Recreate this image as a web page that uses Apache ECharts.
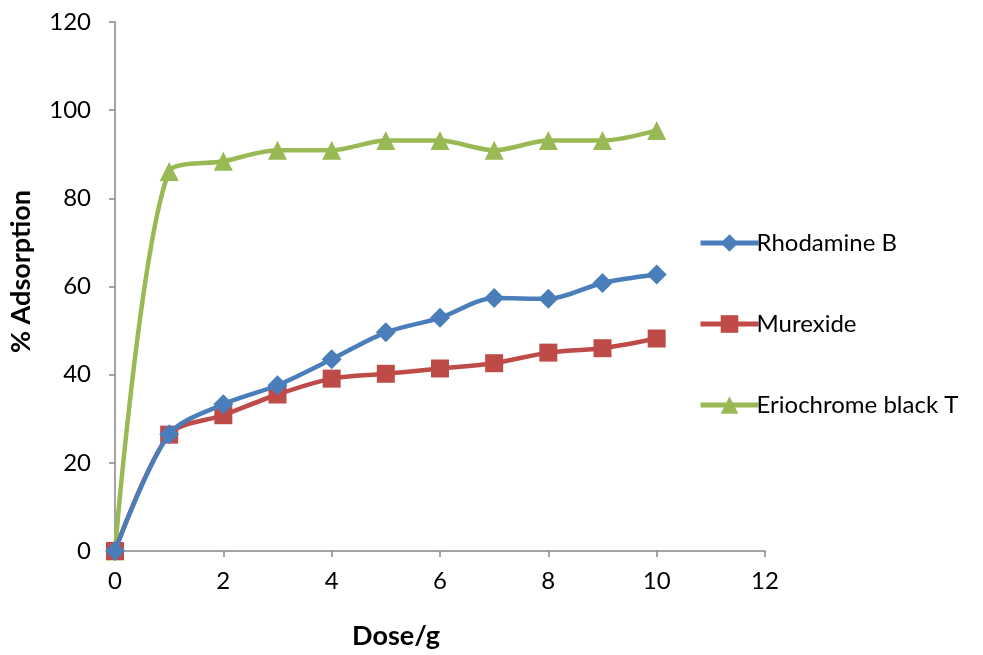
<!DOCTYPE html>
<html>
<head>
<meta charset="utf-8">
<script src="https://cdn.jsdelivr.net/npm/echarts@6/dist/echarts.min.js"></script>
<style>html,body{margin:0;padding:0;background:#fff;}#c{width:983px;height:655px;}</style>
</head>
<body>
<div id="c"></div>
<script>
const doses = [0, 1, 2, 3, 4, 5, 6, 7, 8, 9, 10];
const rhodamineB = [0, 26.5, 33.3, 37.6, 43.5, 49.6, 52.9, 57.4, 57.2, 60.8, 62.7];
const murexide = [0, 26.4, 30.8, 35.5, 39.1, 40.2, 41.4, 42.6, 45.0, 46.0, 48.2];
const eriochrome = [0, 86.1, 88.4, 90.9, 90.9, 93.1, 93.1, 90.9, 93.1, 93.1, 95.4];
const seriesNames = ['Rhodamine B', 'Murexide', 'Eriochrome black T'];
const xTicks = [0, 2, 4, 6, 8, 10, 12];
const yTicks = [0, 20, 40, 60, 80, 100, 120];

const pairs = v => doses.map((d, i) => [d, v[i]]);
const FONT = 'Lato, "Open Sans", sans-serif';
const colors = ['#4A7EBB', '#BE4B48', '#98B954'];
const symbols = ['diamond', 'rect', 'triangle'];
const sizes = [20, 18, 19];
const datas = [rhodamineB, murexide, eriochrome];

const chart = echarts.init(document.getElementById('c'), null, {renderer: 'canvas'});
chart.setOption({
  animation: false,
  backgroundColor: '#fff',
  grid: {left: 114, right: 218, top: 22, bottom: 103},
  legend: {
    orient: 'vertical',
    left: 693, top: 226,
    itemWidth: 58, itemHeight: 22, itemGap: 57,
    lineStyle: {width: 5},
    textStyle: {fontFamily: FONT, fontSize: 24, color: '#000', padding: [0,0,0,-7]},
    data: seriesNames
  },
  xAxis: {
    type: 'value', min: 0, max: 12, interval: 2,
    name: 'Dose/g', nameLocation: 'middle', nameGap: 72,
    nameTextStyle: {fontFamily: FONT, fontSize: 27, fontWeight: 'bold', color: '#000', padding: [0, 88, 0, 0]},
    axisLine: {show: true, lineStyle: {color: '#868686', width: 1.5}},
    axisTick: {show: true, length: 6, lineStyle: {color: '#868686', width: 1.5}},
    axisLabel: {fontFamily: FONT, fontSize: 24, color: '#000', margin: 18,
      formatter: v => xTicks.includes(v) ? String(v) : ''},
    splitLine: {show: false}
  },
  yAxis: {
    type: 'value', min: 0, max: 120, interval: 20,
    name: '% Adsorption', nameLocation: 'middle', nameGap: 80, nameRotate: 90,
    nameTextStyle: {fontFamily: FONT, fontSize: 27, fontWeight: 'bold', color: '#000', padding: [0, 0, 0, 30]},
    axisLine: {show: true, lineStyle: {color: '#868686', width: 1.5}},
    axisTick: {show: true, length: 6, lineStyle: {color: '#868686', width: 1.5}},
    axisLabel: {fontFamily: FONT, fontSize: 24, color: '#000', margin: 24,
      formatter: v => yTicks.includes(v) ? String(v) : ''},
    splitLine: {show: false}
  },
  series: seriesNames.map((n, i) => ({
    name: n, type: 'line', smooth: 0.3,
    data: pairs(datas[i]),
    symbol: symbols[i], symbolSize: sizes[i],
    lineStyle: {color: colors[i], width: 4.5},
    itemStyle: {color: colors[i]},
    z: 3 - i
  }))
});
</script>
</body>
</html>
